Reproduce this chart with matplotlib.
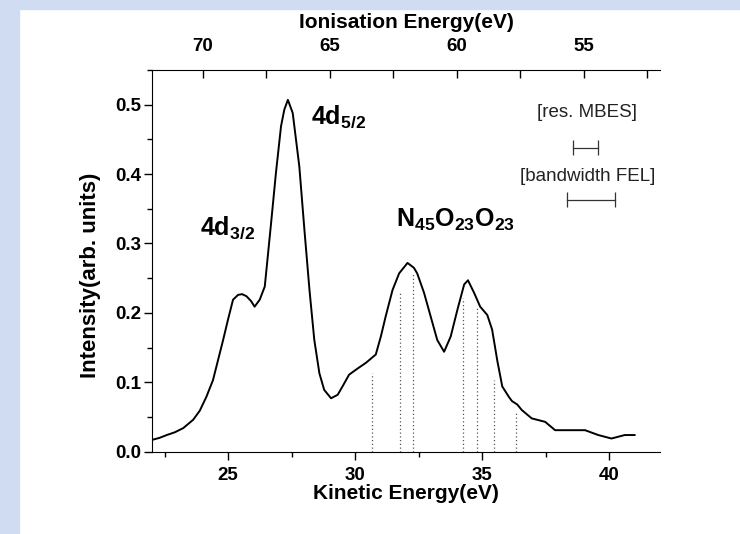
import matplotlib
matplotlib.use("Agg")
import matplotlib.pyplot as plt
from matplotlib.patches import Rectangle
from matplotlib.ticker import MultipleLocator

plt.rcParams['font.family'] = ['Liberation Sans', 'DejaVu Sans']
plt.rcParams['mathtext.fontset'] = 'custom'
plt.rcParams['mathtext.rm'] = 'Liberation Sans'
plt.rcParams['mathtext.bf'] = 'Liberation Sans:bold'

# spectrum: kinetic energy (eV) vs intensity (arb. units)
kinetic_energy = [22.0, 22.3, 22.58, 22.9, 23.23, 23.62, 23.88, 24.14, 24.40, 24.60,
                  24.80, 24.99, 25.19, 25.39, 25.55, 25.72, 25.9, 26.04, 26.24, 26.44,
                  26.69, 26.88, 27.08, 27.21, 27.35, 27.42, 27.54, 27.8, 28.0, 28.2,
                  28.39, 28.59, 28.78, 29.05, 29.31, 29.5, 29.76, 30.1, 30.42, 30.81,
                  31.01, 31.2, 31.47, 31.73, 32.06, 32.31, 32.44, 32.71, 32.97, 33.23,
                  33.5, 33.76, 34.02, 34.29, 34.44, 34.68, 34.92, 35.2, 35.39, 35.6,
                  35.79, 36.05, 36.17, 36.38, 36.56, 36.95, 37.48, 37.87, 38.53, 39.05,
                  39.57, 40.09, 40.61, 41.0]
intensity = [0.017, 0.020, 0.024, 0.028, 0.034, 0.046, 0.059, 0.079, 0.103, 0.132,
             0.161, 0.190, 0.219, 0.226, 0.227, 0.224, 0.217, 0.209, 0.219, 0.238,
             0.330, 0.402, 0.469, 0.493, 0.507, 0.500, 0.488, 0.411, 0.320, 0.233,
             0.161, 0.113, 0.089, 0.077, 0.082, 0.094, 0.111, 0.120, 0.128, 0.140,
             0.166, 0.195, 0.233, 0.257, 0.272, 0.265, 0.257, 0.229, 0.195, 0.161,
             0.144, 0.166, 0.204, 0.241, 0.247, 0.229, 0.209, 0.197, 0.176, 0.130,
             0.094, 0.079, 0.073, 0.068, 0.060, 0.048, 0.043, 0.031, 0.031, 0.031,
             0.024, 0.019, 0.024, 0.024]

# dotted markers of the N45O23O23 lines
line_energy = [30.65, 31.76, 32.29, 34.25, 34.8, 35.45, 36.34]
line_top = [0.114, 0.229, 0.258, 0.222, 0.209, 0.103, 0.058]

photon_energy = 94.0
top_ticks = [70, 65, 60, 55]

# resolution bars: (start, end, height)
res_mbes = (38.59, 39.57, 0.438)
bw_fel = (38.35, 40.24, 0.363)

fig = plt.figure(figsize=(7.4, 5.34), dpi=100)
fig.patches.append(Rectangle((0, 0), 19 / 740, 1, transform=fig.transFigure,
                             color="#cfdcf1", zorder=-10))
fig.patches.append(Rectangle((0, 1 - 9 / 534), 1, 9 / 534, transform=fig.transFigure,
                             color="#cfdcf1", zorder=-10))

ax = fig.add_axes([152 / 740, 1 - 451.7 / 534, 508 / 740, 381.7 / 534])
ax.plot(kinetic_energy, intensity, color="black", lw=1.4)
ax.vlines(line_energy, 0, line_top, colors="#555555", linestyles=(0, (1, 2)), lw=0.9)

for x0, x1, y in (res_mbes, bw_fel):
    ax.plot([x0, x1], [y, y], color="#333333", lw=0.9)
    ax.vlines([x0, x1], y - 0.011, y + 0.011, colors="#333333", lw=0.9)

ax.set_xlim(22, 42)
ax.set_ylim(0, 0.55)
ax.spines['right'].set_visible(False)
ax.spines['top'].set_visible(False)
ax.xaxis.set_major_locator(MultipleLocator(5))
ax.xaxis.set_minor_locator(MultipleLocator(2.5))
ax.yaxis.set_major_locator(MultipleLocator(0.1))
ax.yaxis.set_minor_locator(MultipleLocator(0.05))
ax.yaxis.set_major_formatter(lambda v, p: f"{v:.1f}")
ax.tick_params(which='major', length=6, width=1, labelsize=13.5)
ax.tick_params(which='minor', length=3.5, width=1)
ax.tick_params(axis='x', pad=5)
ax.tick_params(axis='y', pad=2)
for lab in ax.get_xticklabels() + ax.get_yticklabels():
    lab.set_fontweight('bold')

ax.set_xlabel("Kinetic Energy(eV)", fontsize=15, fontweight='bold', labelpad=0)
ax.set_ylabel("Intensity(arb. units)", fontsize=16, fontweight='bold')
ax.yaxis.set_label_coords(-0.1, 0.463)

secax = ax.secondary_xaxis('top', functions=(lambda x: photon_energy - x,
                                             lambda x: photon_energy - x))
secax.set_xticks(top_ticks)
secax.xaxis.set_minor_locator(MultipleLocator(2.5))
secax.tick_params(which='major', direction='in', length=6, width=1, labelsize=13.5, pad=11)
secax.tick_params(which='minor', direction='in', length=6, width=1)
for lab in secax.get_xticklabels():
    lab.set_fontweight('bold')
secax.set_xlabel("Ionisation Energy(eV)", fontsize=15, fontweight='bold', labelpad=7)

ax.text(23.88, 0.313, r"$\mathbf{4d}_{\mathbf{3/2}}$", fontsize=18)
ax.text(28.27, 0.473, r"$\mathbf{4d}_{\mathbf{5/2}}$", fontsize=18)
ax.text(31.6, 0.324, r"$\mathbf{N}_{\mathbf{45}}\mathbf{O}_{\mathbf{23}}\mathbf{O}_{\mathbf{23}}$",
        fontsize=18)
ax.text(39.14, 0.489, "[res. MBES]", fontsize=13.5, ha='center', va='center', color="#222222")
ax.text(39.14, 0.396, "[bandwidth FEL]", fontsize=13.5, ha='center', va='center', color="#222222")

fig.savefig("out.png", dpi=100)
